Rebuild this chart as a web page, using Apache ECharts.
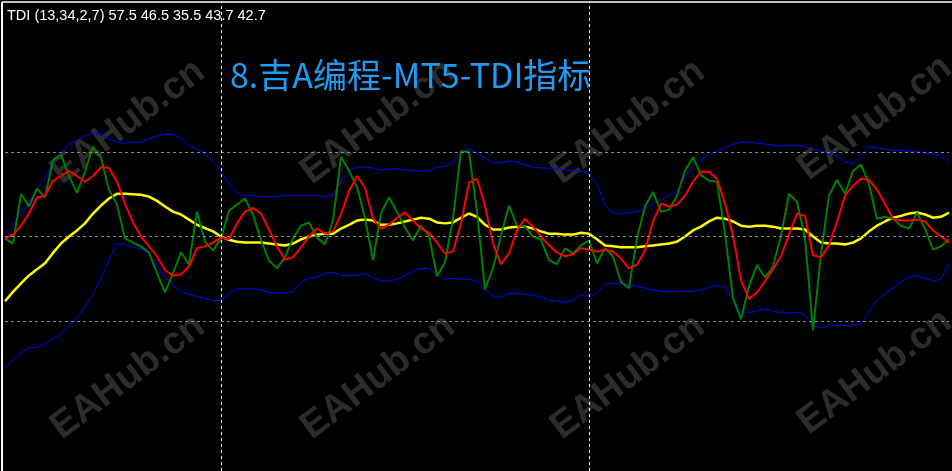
<!DOCTYPE html>
<html>
<head>
<meta charset="utf-8">
<title>MT5 TDI</title>
<script src="https://cdn.jsdelivr.net/npm/echarts@6/dist/echarts.min.js"></script>
<style>
  html, body { margin: 0; padding: 0; background: #000; }
  #chart { width: 952px; height: 471px; }
</style>
</head>
<body>
<div id="chart"></div>
<script>
// TDI (13,34,2,7) 指标数据，按K线顺序
const upperBand = [
  50.6,52.4,54.7,57.4,60.0,62.3,65.8,67.8,69.7,70.6,
  71.4,72.0,72.0,70.8,70.1,69.9,70.1,70.1,70.8,71.4,
  71.8,71.8,70.9,69.5,68.6,67.6,65.8,64.0,61.2,59.3,
  58.7,58.7,58.5,58.5,58.5,58.7,58.7,58.7,58.7,58.7,
  58.5,58.9,61.7,64.0,64.8,64.8,64.6,64.2,64.4,64.4,
  64.2,64.0,64.0,64.0,64.8,65.0,65.7,68.2,68.6,67.8,
  66.7,65.8,65.7,66.1,65.9,65.3,64.8,64.6,64.6,64.4,
  64.2,64.0,64.0,63.3,61.2,56.6,55.1,54.9,55.1,55.3,
  55.9,57.0,57.8,58.7,59.7,62.7,65.0,66.3,67.4,68.2,
  68.9,69.7,70.1,70.1,69.9,69.7,69.5,69.3,69.5,69.5,
  69.1,68.6,68.2,67.8,67.2,65.9,65.5,67.4,69.1,68.9,
  68.6,68.4,68.4,68.2,68.2,67.8,67.6,67.2,65.5
]
const lowerBand = [
  21.8,23.7,25.2,26.3,26.3,27.2,28.2,29.2,30.9,32.6,
  35.0,37.7,41.1,45.0,48.5,48.3,47.6,47.5,46.2,43.9,
  41.3,39.6,38.3,37.7,37.2,36.8,36.3,36.4,37.7,38.8,
  38.8,38.8,38.6,38.1,37.9,37.9,38.3,40.3,41.1,41.3,
  42.2,42.4,41.7,41.7,41.7,42.2,41.1,40.5,40.5,40.9,
  41.7,42.6,43.2,43.2,41.9,40.9,41.1,40.9,40.9,40.5,
  38.6,37.3,37.1,37.9,37.9,37.7,37.5,37.1,36.4,36.2,
  36.0,36.4,37.5,37.3,37.9,39.8,40.0,40.0,39.8,39.4,
  39.0,38.6,38.3,38.3,38.3,38.3,38.3,38.6,39.2,39.6,
  39.2,36.4,34.1,33.7,34.1,34.5,34.1,33.7,33.7,33.9,
  33.3,30.9,30.5,30.9,31.1,31.1,31.1,31.4,34.1,36.4,
  37.9,39.0,40.3,41.3,41.7,41.1,40.5,40.9,44.3
]
const midLine = [
  36.2,38.2,40.0,41.7,43.0,44.3,46.5,48.5,50.0,51.3,
  52.8,54.9,56.6,58.1,59.1,59.1,59.0,58.9,58.5,57.6,
  56.4,55.3,54.7,53.6,52.5,51.8,51.1,50.0,49.3,48.9,
  48.7,48.7,48.7,48.5,48.3,48.1,48.5,49.4,50.0,50.4,
  50.6,50.6,51.7,52.5,53.4,53.6,53.4,52.5,52.5,52.8,
  53.2,53.6,54.0,53.8,53.0,52.8,53.0,54.0,54.9,54.2,
  52.5,51.5,51.5,51.9,52.1,52.1,51.7,51.1,50.6,50.6,
  50.4,50.4,50.8,50.6,49.4,48.1,47.9,47.7,47.7,47.7,
  47.9,48.1,48.3,48.5,48.9,50.0,51.3,52.1,53.2,54.0,
  53.8,53.2,52.3,52.1,52.3,52.3,52.1,51.7,51.7,51.7,
  51.5,50.0,48.7,48.5,48.5,48.3,48.7,49.6,51.1,52.3,
  53.2,54.0,54.4,54.9,55.1,54.7,54.0,54.2,55.1
]
const rsiPrice = [
  49.6,48.5,59.1,56.4,60.2,58.3,66.3,67.4,62.9,59.3,
  63.8,69.1,66.9,60.0,56.8,49.6,48.7,47.9,46.6,42.2,
  38.1,42.2,46.6,44.1,55.3,48.9,47.0,49.6,55.5,56.8,
  58.1,54.7,49.2,44.9,43.2,45.6,49.6,52.3,53.0,49.8,
  48.3,53.4,67.0,64.0,60.6,54.0,44.9,54.9,58.3,55.3,
  51.9,49.2,52.3,50.2,41.5,44.5,53.8,68.2,68.0,55.3,
  38.8,43.2,50.2,56.6,52.3,52.1,50.0,49.4,44.9,44.1,
  47.5,46.4,48.1,49.2,44.3,47.5,45.8,40.3,39.0,49.6,
  56.4,59.5,55.3,55.7,58.7,64.0,66.9,63.1,61.9,61.7,
  50.6,36.9,32.4,39.4,43.9,41.3,43.6,50.2,59.1,57.4,
  49.6,30.0,46.2,58.7,62.1,59.1,64.0,65.3,61.2,53.8,
  54.2,53.8,52.3,51.7,55.1,51.7,47.2,47.9,49.4
]
const signalLine = [
  49.6,50.4,52.3,54.9,58.3,58.7,61.9,62.9,64.0,62.9,
  61.7,62.9,64.8,64.6,61.7,57.0,53.0,50.0,47.9,45.8,
  42.8,41.7,41.9,43.6,47.5,47.9,48.7,49.8,49.4,52.8,
  55.3,56.1,54.9,51.5,47.9,45.1,45.6,47.7,50.0,51.7,
  50.6,51.1,54.7,59.7,62.9,60.4,53.8,51.7,52.5,54.0,
  55.1,53.4,51.7,50.8,48.7,46.4,46.8,52.8,61.5,62.3,
  56.6,48.5,44.1,46.4,51.3,53.8,52.1,50.0,48.1,46.6,
  45.8,46.2,47.5,47.2,46.8,47.2,46.8,45.3,43.2,44.0,
  47.0,53.2,57.0,56.4,56.8,58.7,61.7,63.8,63.8,62.3,
  57.0,50.2,40.7,36.7,38.1,40.5,43.0,45.8,50.4,54.9,
  54.4,46.0,45.6,48.1,53.2,58.7,60.8,62.3,62.1,60.0,
  57.0,53.8,53.4,53.4,53.6,53.2,51.3,50.0,48.7
]
const levels = [32, 50, 68]      // 水平虚线
const separators = [27, 73]      // 竖直分隔线所在K线
const header = 'TDI (13,34,2,7) 57.5 46.5 35.5 43.7 42.7'
const titleText = '8.吉A编程-MT5-TDI指标'

const chart = echarts.init(document.getElementById('chart'))

// 水印
const marks = []
;[[128, 122], [378, 122], [628, 122], [875, 118],
  [128, 377], [378, 377], [628, 377], [875, 372]].forEach(p => {
  marks.push({
    type: 'text', x: p[0], y: p[1], z: 0, silent: true,
    rotation: 37 * Math.PI / 180,
    style: {
      text: 'EAHub.cn', fill: '#2c2c2c',
      font: 'bold 38px "Liberation Sans"',
      textAlign: 'center', textVerticalAlign: 'middle'
    }
  })
})

function lineSeries(name, data, color, width) {
  return {
    name, type: 'line', data,
    symbol: 'none', animation: false, silent: true,
    lineStyle: { color, width }
  }
}

const option = {
  backgroundColor: '#000',
  animation: false,
  grid: { left: 5, right: 3, top: 2, height: 472 },
  xAxis: {
    type: 'category', boundaryGap: false,
    axisLine: { show: false }, axisTick: { show: false },
    axisLabel: { show: false }, splitLine: { show: false }
  },
  yAxis: {
    type: 'value', min: 0, max: 100,
    axisLine: { show: false }, axisTick: { show: false },
    axisLabel: { show: false }, splitLine: { show: false }
  },
  graphic: [
    ...marks,
    { type: 'line', z: 50, shape: { x1: 2, y1: 2, x2: 952, y2: 2 },
      style: { stroke: '#fff', lineWidth: 1.5 } },
    { type: 'line', z: 50, shape: { x1: 2, y1: 2, x2: 2, y2: 471 },
      style: { stroke: '#fff', lineWidth: 2 } },
    { type: 'text', z: 50, x: 7, y: 8,
      style: { text: header, fill: '#fff', font: '14.5px "Liberation Sans"' } },
    { type: 'text', z: 50, x: 230, y: 58,
      style: { text: titleText, fill: '#1e9bf2', font: '34px "Noto Sans CJK SC"' } }
  ],
  series: [
    {
      ...lineSeries('upper', upperBand, '#0000ff', 1),
      markLine: {
        symbol: 'none', silent: true, animation: false,
        label: { show: false },
        data: [
          ...levels.map(v => ({ yAxis: v, lineStyle: { color: '#8a8a8a', type: [3, 3], width: 1 } })),
          ...separators.map(i => ({ xAxis: i, lineStyle: { color: '#ffffff', type: [3, 3], width: 1 } }))
        ]
      }
    },
    lineSeries('lower', lowerBand, '#0000ff', 1),
    lineSeries('mid', midLine, '#ffff00', 2.5),
    lineSeries('rsi', rsiPrice, '#008000', 2),
    lineSeries('signal', signalLine, '#ff0000', 2)
  ]
}
chart.setOption(option)
</script>
</body>
</html>
